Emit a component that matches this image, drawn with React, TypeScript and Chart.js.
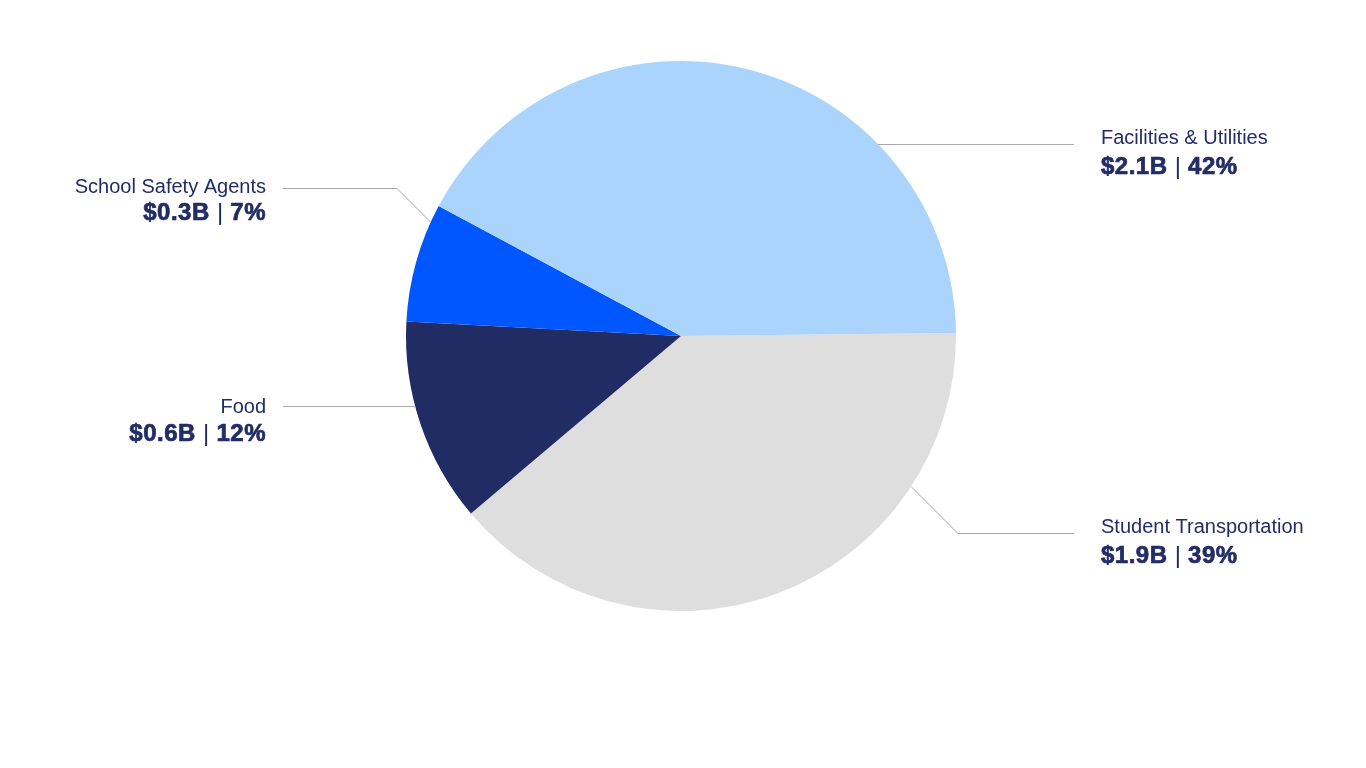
import React, { useEffect, useRef } from 'react';
import { Chart, registerables } from 'chart.js';

Chart.register(...registerables);

const categories = ['Student Transportation', 'Food', 'School Safety Agents', 'Facilities & Utilities'];
const amounts = [1.9, 0.6, 0.3, 2.1]; // $ billions
const shares = [39, 12, 7, 42]; // % of total
const sliceColors = ['#dedede', '#212c65', '#0057ff', '#aad4fc'];

const TEXT = '#222c66';
const FONT = "'Liberation Sans', Arial, Helvetica, sans-serif";

// callout placement for each slice (same order as categories)
const callouts = [
    { side: 'right', lineY: 533, elbowX: 958, lineEndX: 1074, textX: 1101, dy1: 0, dy2: 30 },
    { side: 'left', lineY: 406, elbowX: null, lineEndX: 283, textX: 266, dy1: 7, dy2: 35 },
    { side: 'left', lineY: 188, elbowX: 397, lineEndX: 283, textX: 266, dy1: 5, dy2: 32 },
    { side: 'right', lineY: 144, elbowX: null, lineEndX: 1074, textX: 1101, dy1: 0, dy2: 30 },
];

const calloutPlugin = {
    id: 'callouts',
    afterDraw(chart: any) {
        const arc = chart.getDatasetMeta(0).data[0];
        if (!arc) return;
        const { x: cx, y: cy, outerRadius: r } = arc.getProps(['x', 'y', 'outerRadius'], true);
        const ctx: CanvasRenderingContext2D = chart.ctx;
        ctx.save();

        callouts.forEach((c, i) => {
            const right = c.side === 'right';
            const ly = c.lineY + 0.5; // crisp 1px line

            // leader line: from the rim, optional 45deg piece, then flat to the text
            const pts: number[][] = [];
            if (c.elbowX == null) {
                const sx = cx + (right ? 1 : -1) * Math.sqrt(r * r - (ly - cy) ** 2);
                pts.push([sx, ly]);
            } else {
                const dx = (right ? -1 : 1) / Math.SQRT2;
                const dy = (ly > cy ? -1 : 1) / Math.SQRT2;
                const wx = c.elbowX - cx;
                const wy = ly - cy;
                const b = wx * dx + wy * dy;
                const t = -b - Math.sqrt(b * b - (wx * wx + wy * wy - r * r));
                pts.push([c.elbowX + t * dx, ly + t * dy]);
                pts.push([c.elbowX, ly]);
            }
            pts.push([c.lineEndX, ly]);

            ctx.strokeStyle = '#a9a9a9';
            ctx.lineWidth = 1;
            ctx.beginPath();
            pts.forEach(([px, py], k) => (k === 0 ? ctx.moveTo(px, py) : ctx.lineTo(px, py)));
            ctx.stroke();

            // first line: category name
            ctx.fillStyle = TEXT;
            ctx.strokeStyle = TEXT;
            ctx.textBaseline = 'alphabetic';
            ctx.font = `20px ${FONT}`;
            (ctx as any).letterSpacing = '0px';
            ctx.textAlign = right ? 'left' : 'right';
            ctx.fillText(categories[i], c.textX, c.lineY + c.dy1);

            // second line: bold amount | bold share
            const parts = [
                { text: `$${amounts[i].toFixed(1)}B `, font: `bold 24px ${FONT}`, ls: '0.5px', bold: true },
                { text: '|', font: `24px ${FONT}`, ls: '0px', bold: false },
                { text: ` ${shares[i]}%`, font: `bold 24px ${FONT}`, ls: '0.5px', bold: true },
            ];
            ctx.textAlign = 'left';
            const widths = parts.map((p) => {
                ctx.font = p.font;
                (ctx as any).letterSpacing = p.ls;
                return ctx.measureText(p.text).width;
            });
            const total = widths.reduce((a, b) => a + b, 0);
            let x = right ? c.textX : c.textX - total;
            parts.forEach((p, k) => {
                ctx.font = p.font;
                (ctx as any).letterSpacing = p.ls;
                ctx.fillText(p.text, x, c.lineY + c.dy2);
                if (p.bold) {
                    // heavier weight like the original
                    ctx.lineWidth = 0.7;
                    ctx.strokeText(p.text, x, c.lineY + c.dy2);
                }
                x += widths[k];
            });
        });

        ctx.restore();
    },
};

const App: React.FC = () => {
    const chartRef = useRef<HTMLCanvasElement | null>(null);

    useEffect(() => {
        document.body.style.margin = '0';
        if (!chartRef.current) return;
        const ctx = chartRef.current.getContext('2d');
        if (!ctx) return;

        const myChart = new Chart(ctx, {
            type: 'pie',
            data: {
                labels: categories,
                datasets: [
                    {
                        data: shares,
                        backgroundColor: sliceColors,
                        borderWidth: 0,
                        hoverBorderWidth: 0,
                        hoverOffset: 0,
                    },
                ],
            },
            options: {
                responsive: false,
                animation: false,
                rotation: 89.4,
                layout: {
                    padding: { left: 406, right: 410, top: 61, bottom: 157 },
                },
                plugins: {
                    legend: { display: false },
                    tooltip: { enabled: false },
                },
            },
            plugins: [calloutPlugin],
        });

        return () => {
            myChart.destroy();
        };
    }, []);

    return (
        <div style={{ position: 'absolute', left: 0, top: 0, width: 1366, height: 768, background: '#fff' }}>
            <canvas ref={chartRef} width="1366" height="768" />
        </div>
    );
};

export default App;
